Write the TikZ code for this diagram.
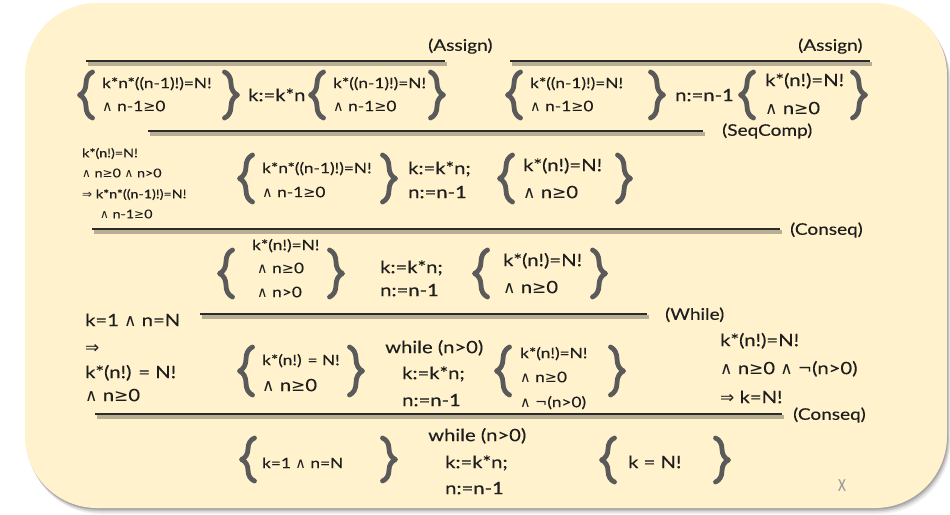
\documentclass[tikz,border=0pt]{standalone}
\usepackage{fontspec}
\setmainfont{Lato}[FakeStretch=1.19, FakeBold=0.2]
\newfontfamily\symf{DejaVu Sans}
\usetikzlibrary{decorations.pathreplacing}
\definecolor{bgfill}{HTML}{FFF2CC}
\definecolor{txtc}{HTML}{1E1E1E}
\definecolor{bracec}{HTML}{5A5A5A}
\definecolor{rulec}{HTML}{2B2B2B}
\definecolor{xgray}{HTML}{9A9A9A}
\newcommand\myand{{\symf ∧}}
\newcommand\myge{{\symf ≥}}
\newcommand\mynot{{\symf ¬}}
\newcommand\myimp{{\symf ⇒}}
\tikzset{
  txt/.style={anchor=west, inner sep=0pt, text=txtc},
  sm/.style={txt, font=\fontsize{14.5}{17}\selectfont, text height=13pt, text depth=2.6pt},
  md/.style={txt, font=\fontsize{17}{20}\selectfont, text height=15.3pt, text depth=3pt},
  tn/.style={txt, font=\fontsize{12}{14}\selectfont, text height=10.8pt, text depth=2.2pt},
  lbl/.style={txt, font=\fontsize{16}{19}\selectfont, text height=14.4pt, text depth=2.8pt},
  brc/.style={draw=bracec, line width=4.8pt, line cap=round, line join=round,
              decorate, decoration={brace, amplitude=13pt}},
  rl/.style={draw=rulec, line width=2.6pt},
  rsh/.style={draw=black, opacity=0.28, line width=4pt},
}
% "{" : right x, top y, bottom y
\newcommand\LBr[3]{\draw[brc] (#1-2.5,#3) -- (#1-2.5,#2);}
% "}" : left x, top y, bottom y
\newcommand\RBr[3]{\draw[brc] (#1+2.5,#2) -- (#1+2.5,#3);}
% inference line: x1, x2, y
\newcommand\IRule[3]{\draw[rsh] (#1+1.5,#3+2.5) -- (#2+1.5,#3+2.5); \draw[rl] (#1,#3) -- (#2,#3);}
\begin{document}
\begin{tikzpicture}[x=1pt,y=-1pt]
\useasboundingbox (0,0) rectangle (950,514);
\fill[white] (0,0) rectangle (950,514);
% card with shadow
\foreach \d/\o in {6/0.06,4.5/0.08,3/0.12,1.5/0.15}
  \fill[black, opacity=\o, rounded corners=72pt] (25+\d*0.5,3+\d) rectangle (947+\d*0.6,508+\d);
\fill[bgfill, rounded corners=72pt] (25,3) rectangle (947,508);

% ---------- Row 1 ----------
\node[lbl] (as1) at (428,45) {(Assign)};
\IRule{86}{445}{61}
\node[lbl] (as2) at (798,45) {(Assign)};
\IRule{510}{870}{61}

\LBr{95}{72}{118}
\node[sm] (a1) at (102,83) {k*n*((n-1)!)=N!};
\node[sm] (a2) at (102,106) {\myand\ n-1\myge0};
\RBr{222}{72}{118}
\node[md] (a3) at (248,95) {k:=k*n};
\LBr{326}{72}{118}
\node[sm] (a4) at (333,83) {k*((n-1)!)=N!};
\node[sm] (a5) at (333,106) {\myand\ n-1\myge0};
\RBr{428}{72}{118}

\LBr{523}{72}{118}
\node[sm] (b1) at (530,83) {k*((n-1)!)=N!};
\node[sm] (b2) at (530,106) {\myand\ n-1\myge0};
\RBr{648}{72}{118}
\node[md] (b3) at (675,95) {n:=n-1};
\LBr{756}{72}{118}
\node[md] (b4) at (765,80) {k*(n!)=N!};
\node[md] (b5) at (765,108) {\myand\ n\myge0};
\RBr{850}{72}{118}

\IRule{148}{703}{131}
\node[lbl] (sc) at (722,130) {(SeqComp)};

% ---------- Row 2 ----------
\node[tn] (c1) at (82,153) {k*(n!)=N!};
\node[tn] (c2) at (82,173) {\myand\ n\myge0 \myand\ n>0};
\node[tn] (c3) at (82,194) {\myimp\ k*n*((n-1)!)=N!};
\node[tn] (c4) at (100,214) {\myand\ n-1\myge0};

\LBr{255}{155}{202}
\node[sm] (d1) at (262,168) {k*n*((n-1)!)=N!};
\node[sm] (d2) at (262,192) {\myand\ n-1\myge0};
\RBr{380}{155}{202}
\node[md] (d3) at (408,168) {k:=k*n;};
\node[md] (d4) at (408,192) {n:=n-1};
\LBr{515}{155}{202}
\node[md] (d5) at (523,165) {k*(n!)=N!};
\node[md] (d6) at (523,192) {\myand\ n\myge0};
\RBr{615}{155}{202}

\IRule{92}{780}{229}
\node[lbl] (cq1) at (790,229) {(Conseq)};

% ---------- Row 3 ----------
\LBr{235}{250}{297}
\node[sm] (e1) at (252,245) {k*(n!)=N!};
\node[sm] (e2) at (257,268) {\myand\ n\myge0};
\node[sm] (e3) at (257,292) {\myand\ n>0};
\RBr{327}{250}{297}
\node[md] (e4) at (380,267) {k:=k*n;};
\node[md] (e5) at (380,290) {n:=n-1};
\LBr{490}{250}{297}
\node[md] (e6) at (503,260) {k*(n!)=N!};
\node[md] (e7) at (503,287) {\myand\ n\myge0};
\RBr{590}{250}{297}

\IRule{200}{647}{314}
\node[lbl] (wh) at (665,314) {(While)};

% ---------- Row 4 ----------
\node[md] (f1) at (85,320) {k=1 \myand\ n=N};
\node[md] (f2) at (85,347) {\myimp};
\node[md] (f3) at (85,372) {k*(n!) = N!};
\node[md] (f4) at (85,395) {\myand\ n\myge0};

\LBr{255}{347}{395}
\node[sm] (g1) at (262,360) {k*(n!) = N!};
\node[md] (g2) at (262,385) {\myand\ n\myge0};
\RBr{347}{347}{395}
\node[md] (g3) at (385,347) {while (n>0)};
\node[md] (g4) at (402,373) {k:=k*n;};
\node[md] (g5) at (402,400) {n:=n-1};
\LBr{512}{347}{395}
\node[sm] (g6) at (520,353) {k*(n!)=N!};
\node[sm] (g7) at (520,377) {\myand\ n\myge0};
\node[sm] (g8) at (520,402) {\myand\ \mynot(n>0)};
\RBr{608}{347}{395}

\node[md] (h1) at (720,340) {k*(n!)=N!};
\node[md] (h2) at (720,368) {\myand\ n\myge0 \myand\ \mynot(n>0)};
\node[md] (h3) at (720,397) {\myimp\ k=N!};

\IRule{95}{782}{414}
\node[lbl] (cq2) at (793,414) {(Conseq)};

% ---------- Row 5 ----------
\LBr{257}{438}{481}
\node[sm] (i1) at (262,463) {k=1 \myand\ n=N};
\RBr{380}{438}{481}
\node[md] (i2) at (428,435) {while (n>0)};
\node[md] (i3) at (445,462) {k:=k*n;};
\node[md] (i4) at (445,488) {n:=n-1};
\LBr{617}{438}{482}
\node[md] (i5) at (628,462) {k = N!};
\RBr{713}{438}{482}

\node[txt, font=\fontsize{16}{18}\selectfont, text=xgray] (xx) at (838,485) {\scalebox{0.6}[1]{X}};
\end{tikzpicture}
\end{document}
